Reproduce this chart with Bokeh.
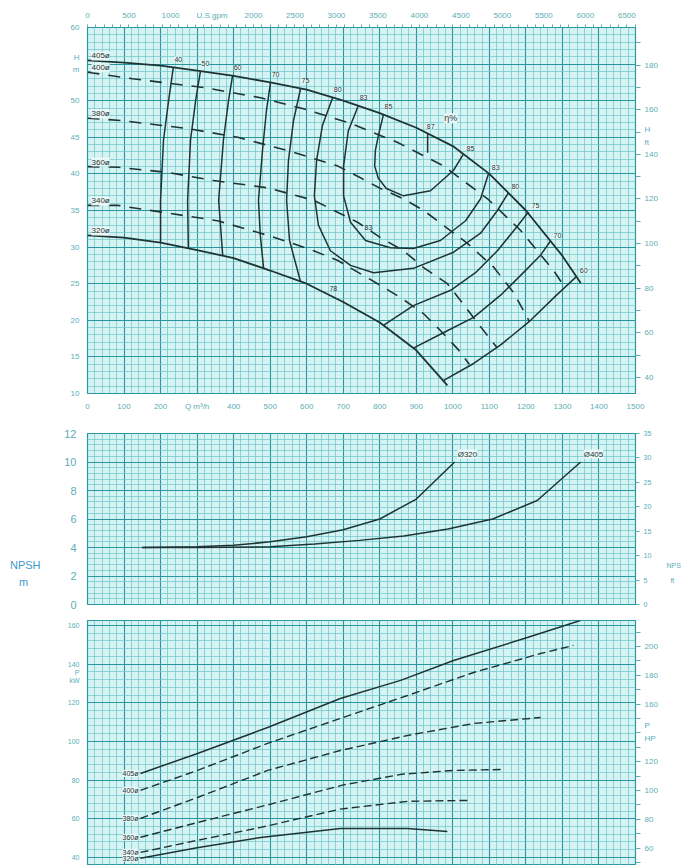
from bokeh.plotting import figure
from bokeh.layouts import column
from bokeh.models import Range1d, LinearAxis, FixedTicker, Label
from bokeh.embed import file_html
from bokeh.resources import INLINE

# ---------------- data ----------------
# H-Q curves, Q in m3/h, H in m
q_405 = [0, 100, 200, 300, 400, 500, 600, 700, 800, 900, 1000, 1100, 1200, 1300, 1350]
h_405 = [55.5, 55.2, 54.8, 54.1, 53.4, 52.5, 51.5, 50.0, 48.3, 46.3, 43.8, 40.0, 35.0, 28.8, 25.1]
q_400 = [0, 123, 318, 474, 591, 720, 849, 974, 1095, 1185, 1276, 1308]
h_400 = [53.9, 53.0, 51.8, 50.4, 48.9, 46.9, 44.3, 41.1, 36.6, 32.3, 26.8, 24.4]
q_380 = [0, 90, 274, 411, 547, 684, 742, 802, 865, 920, 966, 1040, 1111, 1166, 1209]
h_380 = [47.6, 47.3, 46.2, 45.0, 43.2, 41.1, 39.6, 38.0, 36.6, 35.0, 33.3, 30.5, 27.3, 23.8, 19.9]
q_360 = [0, 85, 219, 345, 493, 619, 739, 802, 865, 920, 985, 1021, 1070, 1122]
h_360 = [41.0, 40.9, 40.2, 39.1, 38.1, 36.4, 33.4, 31.3, 29.5, 27.2, 25.0, 22.7, 19.5, 16.2]
q_340 = [0, 82, 227, 356, 474, 556, 619, 684, 794, 857, 920, 966, 1013, 1045]
h_340 = [35.7, 35.7, 34.6, 33.6, 31.9, 30.6, 29.5, 28.2, 25.0, 23.1, 20.9, 18.6, 16.1, 14.0]
q_320 = [0, 100, 200, 300, 400, 500, 600, 700, 800, 900, 985]
h_320 = [31.6, 31.3, 30.6, 29.6, 28.5, 26.8, 25.0, 22.5, 19.7, 15.9, 11.1]
diam_labels = ["405ø", "400ø", "380ø", "360ø", "340ø", "320ø"]

# efficiency curves (eta %)
eff_40_q = [235, 222, 208, 200, 200]
eff_40_h = [54.6, 50.0, 44.6, 36.4, 30.6]
eff_50_q = [309, 296, 282, 274, 276]
eff_50_h = [54.0, 50.0, 44.6, 36.4, 29.9]
eff_60_q = [397, 386, 372, 359, 370]
eff_60_h = [53.4, 50.0, 44.6, 36.4, 28.9]
eff_70_q = [501, 490, 479, 468, 473, 482]
eff_70_h = [52.5, 48.7, 43.2, 36.4, 31.6, 27.1]
eff_75_q = [583, 564, 550, 545, 553, 583]
eff_75_h = [51.6, 47.3, 41.8, 36.4, 30.9, 25.3]
eff_80_q = [671, 643, 627, 621, 632, 665, 720, 783, 892, 1002, 1076, 1122, 1152]
eff_80_h = [50.4, 46.6, 41.8, 37.0, 33.0, 29.5, 27.5, 26.5, 27.1, 29.3, 31.9, 35.0, 37.4]
eff_83_q = [742, 714, 701, 701, 720, 761, 829, 892, 966, 1035, 1076, 1098]
eff_83_h = [49.4, 45.9, 41.1, 37.0, 33.4, 30.9, 29.9, 29.8, 30.9, 33.6, 36.6, 40.1]
eff_85_q = [810, 796, 788, 786, 796, 818, 865, 939, 1002, 1029]
eff_85_h = [48.1, 45.2, 43.2, 41.1, 39.4, 38.0, 37.0, 37.7, 40.5, 42.7]
eff_75r_q = [810, 892, 994, 1062, 1122, 1171, 1207]
eff_75r_h = [19.3, 22.0, 24.1, 26.5, 29.5, 32.5, 34.8]
eff_70r_q = [892, 974, 1057, 1130, 1185, 1240, 1267]
eff_70r_h = [16.2, 18.3, 20.4, 23.4, 26.1, 28.9, 30.8]
eff_60r_q = [975, 1057, 1130, 1213, 1281, 1339]
eff_60r_h = [11.8, 14.1, 16.6, 20.0, 23.3, 26.0]
eff_left_labels = ["40", "50", "60", "70", "75", "80", "83", "85"]
eff_right_labels = ["85", "83", "80", "75", "70", "60"]
best_q = [931, 931]
best_h = [45.5, 42.9]
best_label = "87"
mid_labels = ["83", "78"]
mid_q = [769, 673]
mid_h = [32.7, 24.3]

# NPSH curves (m)
npsh_320_q = [150, 300, 400, 500, 600, 700, 800, 900, 1005]
npsh_320_m = [4.0, 4.05, 4.15, 4.4, 4.75, 5.25, 6.0, 7.4, 10.0]
npsh_405_q = [150, 300, 500, 622, 744, 866, 987, 1109, 1231, 1350]
npsh_405_m = [4.0, 4.0, 4.05, 4.25, 4.5, 4.8, 5.3, 6.0, 7.3, 10.0]

# Power curves (kW)
p_405_q = [145, 301, 493, 692, 857, 1002, 1204, 1349]
p_405_kw = [83.4, 93.8, 107.2, 122.2, 131.6, 141.9, 153.8, 162.6]
p_400_q = [145, 301, 493, 692, 876, 1057, 1240, 1330]
p_400_kw = [74.7, 85.0, 99.0, 111.9, 123.8, 135.7, 145.5, 149.7]
p_380_q = [145, 301, 493, 692, 876, 1057, 1240]
p_380_kw = [60.2, 71.0, 85.0, 95.3, 103.1, 109.3, 112.4]
p_360_q = [145, 300, 500, 700, 860, 1000, 1139]
p_360_kw = [50.4, 58.0, 67.5, 77.5, 83.0, 85.0, 85.5]
p_340_q = [145, 300, 474, 692, 876, 1048]
p_340_kw = [42.6, 48.8, 55.5, 65.0, 69.0, 69.5]
p_320_q = [145, 300, 474, 692, 876, 985]
p_320_kw = [39.5, 45.0, 50.3, 55.0, 55.0, 53.4]

# unit conversions for secondary axes
M3H_TO_GPM = 4.402868
M_TO_FT = 3.28084
KW_TO_HP = 1.341

# ---------------- styling ----------------
FONT = "Liberation Sans"
BG = "#d6f3f4"
MINOR = "#6cc4c9"
MAJOR = "#2a97a0"
TXT = "#5aaeb4"
INK = "#1e3434"
LBL_BG = "#eefafa"
NBSP = "\u00a0"


def style_grid(p, xmaj, xmin, ymaj, ymin):
    p.xgrid.ticker = FixedTicker(ticks=xmaj, minor_ticks=xmin)
    p.ygrid.ticker = FixedTicker(ticks=ymaj, minor_ticks=ymin)
    for g in (p.xgrid, p.ygrid):
        g.grid_line_color = MAJOR
        g.grid_line_width = 1.1
        g.minor_grid_line_color = MINOR
        g.minor_grid_line_width = 0.7


def style_axis(ax, size, minor_marks=False, color=TXT):
    ax.major_label_text_font = FONT
    ax.major_label_text_font_size = size
    ax.major_label_text_color = color
    ax.axis_line_color = None
    ax.major_label_standoff = 2
    ax.major_tick_line_color = None
    if minor_marks:
        ax.minor_tick_line_color = TXT
        ax.minor_tick_in = 0
        ax.minor_tick_out = 5
    else:
        ax.minor_tick_line_color = None


def lab(p, x, y, text, size="8px", color=INK, align="center", baseline="middle",
        xo=0, yo=0, bg=None):
    kw = dict(x=x, y=y, text=text, text_font=FONT, text_font_size=size,
              text_color=color, text_align=align, text_baseline=baseline,
              x_offset=xo, y_offset=yo)
    if bg:
        kw["background_fill_color"] = bg
        kw["background_fill_alpha"] = 0.9
    p.add_layout(Label(**kw))


def make_fig(fh, top, bottom, yr, xaxis):
    p = figure(frame_width=548, frame_height=fh,
               x_range=Range1d(0, 1500), y_range=Range1d(*yr),
               output_backend="svg", toolbar_location=None,
               min_border_left=87, min_border_right=59,
               min_border_top=top, min_border_bottom=bottom,
               x_axis_location="below" if xaxis else None)
    p.background_fill_color = BG
    p.border_fill_color = "white"
    p.outline_line_color = MAJOR
    p.outline_line_width = 1.2
    return p


xmaj = list(range(0, 1501, 100))
xmin = list(range(0, 1501, 20))

# ---------------- top chart: H-Q ----------------
p1 = make_fig(366, 27, 24, (10, 60), True)
style_grid(p1, xmaj, xmin, list(range(10, 61, 5)), list(range(10, 61, 1)))
p1.extra_x_ranges = {"gpm": Range1d(0, 1500 * M3H_TO_GPM)}
p1.extra_y_ranges = {"ft": Range1d(10 * M_TO_FT, 60 * M_TO_FT)}

ax = p1.yaxis[0]
ax.ticker = FixedTicker(ticks=[10, 15, 20, 25, 30, 35, 40, 45, 50, 55.9, 54.3, 60])
ax.major_label_overrides = {55.9: "H", 54.3: "m"}
style_axis(ax, "8px")
ax = p1.xaxis[0]
ax.ticker = FixedTicker(ticks=xmaj)
ax.major_label_overrides = {300: "Q m³/h"}
style_axis(ax, "8px")

top_ax = LinearAxis(x_range_name="gpm",
                    ticker=FixedTicker(ticks=list(range(0, 6501, 500)),
                                       minor_ticks=list(range(0, 6601, 100))))
top_ax.major_label_overrides = {1500: "U.S.gpm"}
style_axis(top_ax, "8px", minor_marks=True)
top_ax.minor_tick_out = 3
p1.add_layout(top_ax, "above")

r_ax = LinearAxis(y_range_name="ft",
                  ticker=FixedTicker(ticks=[40, 60, 80, 100, 120, 140, 151, 145.5, 160, 180],
                                     minor_ticks=list(range(40, 191, 10))))
r_ax.major_label_overrides = {151: "H", 145.5: "ft"}
style_axis(r_ax, "8px", minor_marks=True)
r_ax.major_label_standoff = 3
p1.add_layout(r_ax, "right")

# H-Q curves
p1.line(q_405, h_405, line_color=INK, line_width=1.8)
p1.line(q_320, h_320, line_color=INK, line_width=1.8)
for qq, hh in ((q_400, h_400), (q_380, h_380), (q_360, h_360), (q_340, h_340)):
    p1.line(qq, hh, line_color=INK, line_width=1.6, line_dash="12 9")

for name, qq, hh in zip(diam_labels,
                        (q_405, q_400, q_380, q_360, q_340, q_320),
                        (h_405, h_400, h_380, h_360, h_340, h_320)):
    lab(p1, qq[0], hh[0], name, size="8px", color=INK, align="left",
        baseline="bottom", xo=4, yo=0, bg=LBL_BG)

# efficiency curves
left_curves = [(eff_40_q, eff_40_h), (eff_50_q, eff_50_h), (eff_60_q, eff_60_h),
               (eff_70_q, eff_70_h), (eff_75_q, eff_75_h), (eff_80_q, eff_80_h),
               (eff_83_q, eff_83_h), (eff_85_q, eff_85_h)]
right_curves = [(eff_85_q, eff_85_h), (eff_83_q, eff_83_h), (eff_80_q, eff_80_h),
                (eff_75r_q, eff_75r_h), (eff_70r_q, eff_70r_h), (eff_60r_q, eff_60r_h)]
for qq, hh in left_curves + right_curves[3:]:
    p1.line(qq, hh, line_color=INK, line_width=1.5)
for name, (qq, hh) in zip(eff_left_labels, left_curves):
    lab(p1, qq[0], hh[0], name, size="7px", xo=5, yo=8, bg=LBL_BG)
for name, (qq, hh) in zip(eff_right_labels, right_curves):
    lab(p1, qq[-1], hh[-1], name, size="7px", xo=7, yo=6, bg=LBL_BG)

p1.line(best_q, best_h, line_color=INK, line_width=1.5)
lab(p1, best_q[0], best_h[0], best_label, size="7px", xo=3, yo=7, bg=LBL_BG)
lab(p1, 994, 47.6, "η%", size="9px", color=INK, bg=LBL_BG)
for name, qq, hh in zip(mid_labels, mid_q, mid_h):
    lab(p1, qq, hh, name, size="7px", color=INK)

# ---------------- middle chart: NPSH ----------------
p2 = make_fig(171, 16, 8, (0, 12), False)
style_grid(p2, xmaj, xmin, list(range(0, 13, 2)),
           [i * 0.4 for i in range(0, 31)])
p2.extra_y_ranges = {"ft": Range1d(0, 35)}
ax = p2.yaxis[0]
ax.ticker = FixedTicker(ticks=list(range(0, 13, 2)))
style_axis(ax, "11px")
ax.major_label_standoff = 5
r2 = LinearAxis(y_range_name="ft", ticker=FixedTicker(ticks=list(range(0, 36, 5)),
                                                      minor_ticks=list(range(0, 36, 5))))
style_axis(r2, "7px", minor_marks=True)
r2.minor_tick_out = 4
p2.add_layout(r2, "right")

# axis titles as extra label-only axes
l2 = LinearAxis(ticker=FixedTicker(ticks=[2.75, 1.6]))
l2.major_label_overrides = {2.75: "NPSH", 1.6: "m" + NBSP * 4}
style_axis(l2, "11px", color="#3f98cf")
l2.major_label_standoff = 15
p2.add_layout(l2, "left")
r2b = LinearAxis(y_range_name="ft", ticker=FixedTicker(ticks=[8.0, 4.9]))
r2b.major_label_overrides = {8.0: "NPS", 4.9: NBSP * 2 + "ft"}
style_axis(r2b, "7px")
r2b.major_label_standoff = 6
p2.add_layout(r2b, "right")

p2.line(npsh_320_q, npsh_320_m, line_color=INK, line_width=1.5)
p2.line(npsh_405_q, npsh_405_m, line_color=INK, line_width=1.5)
lab(p2, npsh_320_q[-1], npsh_320_m[-1], "Ø320", size="8px", align="left",
    xo=3, yo=8, bg=LBL_BG)
lab(p2, npsh_405_q[-1], npsh_405_m[-1], "Ø405", size="8px", align="left",
    xo=3, yo=8, bg=LBL_BG)

# ---------------- bottom chart: power ----------------
KW_LO, KW_HI = 35.8, 162.6
p3 = make_fig(245, 8, 0, (KW_LO, KW_HI), False)
style_grid(p3, xmaj, xmin, list(range(40, 161, 20)), list(range(36, 165, 4)))
p3.extra_y_ranges = {"hp": Range1d(KW_LO * KW_TO_HP, KW_HI * KW_TO_HP)}
ax = p3.yaxis[0]
ax.ticker = FixedTicker(ticks=[40, 60, 80, 100, 120, 131.5, 135.7, 140, 160])
ax.major_label_overrides = {135.7: "P", 131.5: "kW"}
style_axis(ax, "7px")
r3 = LinearAxis(y_range_name="hp",
                ticker=FixedTicker(ticks=[60, 80, 100, 120, 136.3, 145.2, 160, 180, 200],
                                   minor_ticks=list(range(50, 211, 10))))
r3.major_label_overrides = {145.2: "P", 136.3: "HP"}
style_axis(r3, "8px", minor_marks=True)
r3.major_label_standoff = 3
p3.add_layout(r3, "right")

p3.line(p_405_q, p_405_kw, line_color=INK, line_width=1.5)
p3.line(p_320_q, p_320_kw, line_color=INK, line_width=1.5)
for qq, kk in ((p_400_q, p_400_kw), (p_380_q, p_380_kw),
               (p_360_q, p_360_kw), (p_340_q, p_340_kw)):
    p3.line(qq, kk, line_color=INK, line_width=1.4, line_dash="8 4")
for name, qq, kk in zip(diam_labels,
                        (p_405_q, p_400_q, p_380_q, p_360_q, p_340_q, p_320_q),
                        (p_405_kw, p_400_kw, p_380_kw, p_360_kw, p_340_kw, p_320_kw)):
    lab(p3, qq[0], kk[0], name, size="7px", align="right", xo=-2, bg=LBL_BG)

layout = column(p1, p2, p3)
open("out.html", "w").write(file_html(layout, INLINE))
